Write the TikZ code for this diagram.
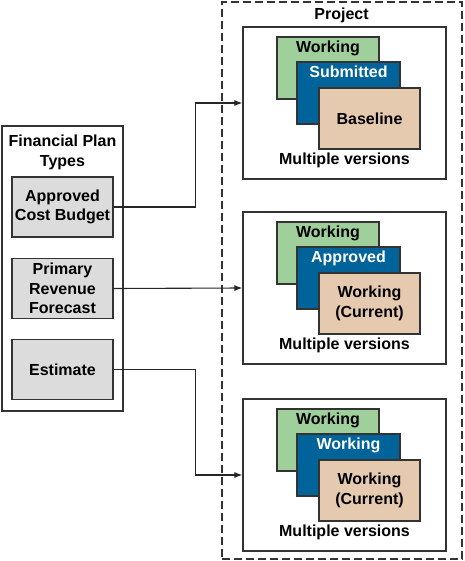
\documentclass[tikz,border=0pt]{standalone}
\usepackage{fontspec}
\setmainfont{Liberation Sans}
\usetikzlibrary{arrows.meta,positioning}
\definecolor{vgreen}{HTML}{9FCF9B}
\definecolor{vblue}{HTML}{00649A}
\definecolor{vtan}{HTML}{E6CAB0}
\definecolor{vgray}{HTML}{DCDCDC}
\definecolor{vline}{HTML}{333333}
\begin{document}
\begin{tikzpicture}[x=1pt,y=-1pt,
  font=\fontsize{16}{19.5}\selectfont\bfseries,
  box/.style={draw=vline,line width=1.2pt,inner sep=0pt},
  typebox/.style={box,fill=vgray,minimum width=101pt,minimum height=60pt,align=center},
  projbox/.style={box,fill=white,minimum width=203pt,minimum height=152pt},
  ver/.style={box,minimum width=102pt,minimum height=62pt,align=center},
  conn/.style={draw=black!85,line width=1.1pt},
  arr/.style={conn,-{Latex[length=8pt,width=6pt]}},
  txt/.style={inner sep=0pt,align=center}
]
\useasboundingbox (0,0) rectangle (464,561);
% outer dashed project frame
\node[draw=vline,line width=1.2pt,dash pattern=on 8pt off 4pt,minimum width=240pt,minimum height=557pt,inner sep=0pt] (frame) at (342,280.5) {};
\node[txt] (ptitle) at (341.5,15) {Project};
% left frame
\node[box,minimum width=121pt,minimum height=285pt] (types) at (62.5,268.5) {};
\node[txt] (ttitle) at (62.5,152.5) {Financial Plan\\Types};
\node[typebox] (acb) at (62.5,207) {Approved\\Cost Budget};
\node[typebox] (prf) at (62.5,288.5) {Primary\\Revenue\\Forecast};
\node[typebox] (est) at (62.5,369.5) {Estimate};
% project boxes
\foreach \n/\t/\b/\c in {1/27/Submitted/Baseline,2/212/Approved/Working\\(Current),3/399/Working/Working\\(Current)}{
  \node[projbox] (p\n) at (344.5,\t+76) {};
  \node[ver,fill=vgreen,label={[txt,anchor=north,yshift=-4pt]north:Working}] (g\n) at (328,\t+41) {};
  \node[ver,fill=vblue,minimum width=103pt,label={[txt,anchor=north,yshift=-4pt,text=white]north:\b}] (b\n) at (348.5,\t+66) {};
  \node[ver,fill=vtan,minimum width=101pt,minimum height=61pt] (t\n) at (369.5,\t+91.5) {\c};
  \node[txt] (m\n) at (344.5,\t+133.5) {Multiple versions};
}
% connectors
\draw[arr] (acb.east) -- ++(82,0) |- (p1.west);
\draw[arr] (prf.east) -- (p2.west);
\draw[arr] (est.east) -- ++(82,0) |- (p3.west);
\end{tikzpicture}
\end{document}
